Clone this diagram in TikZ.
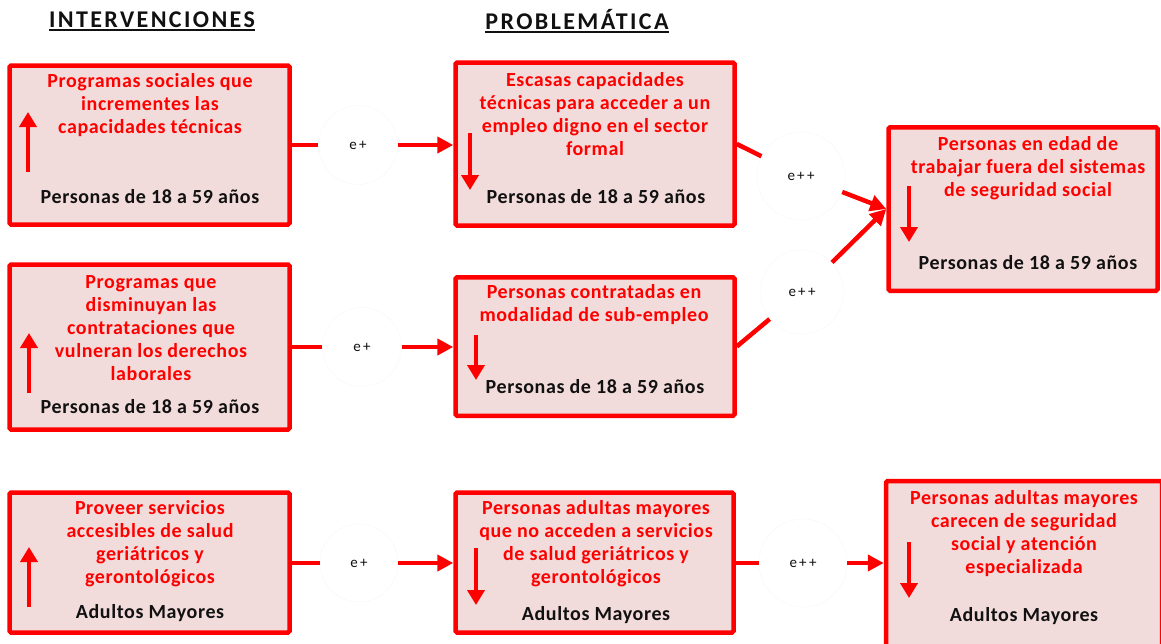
\documentclass[tikz,border=0pt]{standalone}
\usepackage{fontspec}
\setmainfont{Carlito}
\newfontfamily\bodyfont{Carlito}[LetterSpace=3]
\newfontfamily\headfont{Carlito}[LetterSpace=10]
\newfontfamily\lblfont{Carlito}[LetterSpace=15]
\usetikzlibrary{arrows.meta}
\definecolor{boxred}{HTML}{FF0000}
\definecolor{boxfill}{HTML}{F2DCDB}
\definecolor{txtblack}{HTML}{111111}
\newcommand\thickul[1]{\setbox0\hbox{#1}\rlap{\raisebox{-3.5pt}{\rule{\wd0}{1.8pt}}}\box0}
\begin{document}
\begin{tikzpicture}[x=1pt,y=-1pt,
  box/.style={draw=boxred, fill=boxfill, line width=4.5pt, rounded corners=1.5pt, inner sep=0pt},
  redtxt/.style={text=boxred, font=\bodyfont\bfseries\fontsize{20}{23}\selectfont, align=center, inner sep=0pt},
  blktxt/.style={text=txtblack, font=\bodyfont\bfseries\fontsize{20}{23}\selectfont, inner sep=0pt},
  headtxt/.style={text=txtblack, font=\headfont\bfseries\fontsize{24}{28}\selectfont, inner sep=0pt},
  lbl/.style={circle, fill=white, draw=black!3, line width=0.4pt, minimum size=80pt, inner sep=0pt, text=txtblack, font=\lblfont\fontsize{15}{18}\selectfont},
  conn/.style={draw=boxred, line width=4.5pt},
  tipped/.style={-{Triangle[length=16pt,width=16pt]}},
  updown/.style={draw=boxred, line width=4.5pt, -{Triangle[length=15pt,width=17pt]}}
]
\useasboundingbox (0,0) rectangle (1161,643);

% headers
\node[headtxt] (h1) at (152,21) {\thickul{INTERVENCIONES}};
\node[headtxt] (h2) at (577,21) {\thickul{PROBLEMÁTICA}};

% boxes
\node[box, minimum width=280pt, minimum height=159pt] (a1) at (149.5,145) {};
\node[box, minimum width=280pt, minimum height=165pt] (a2) at (149.5,347) {};
\node[box, minimum width=280pt, minimum height=140pt] (a3) at (149.5,562.5) {};
\node[box, minimum width=279pt, minimum height=163pt] (b1) at (595,144) {};
\node[box, minimum width=279pt, minimum height=138.5pt] (b2) at (595,346.5) {};
\node[box, minimum width=278pt, minimum height=140pt] (b3) at (594.5,562.5) {};
\node[box, minimum width=269pt, minimum height=163.5pt] (c1) at (1023,209) {};
\node[box, minimum width=276pt, minimum height=176pt] (c3) at (1024,569) {};

% texts
\node[redtxt] (a1t) at (150,105.5) {Programas sociales que\\incrementes las\\capacidades técnicas};
\node[blktxt] (a1p) at (150,197) {Personas de 18 a 59 años};
\node[redtxt] (a2t) at (151,328) {Programas que\\disminuyan las\\contrataciones que\\vulneran los derechos\\laborales};
\node[blktxt] (a2p) at (150,407) {Personas de 18 a 59 años};
\node[redtxt] (a3t) at (150,544) {Proveer servicios\\accesibles de salud\\geriátricos y\\gerontológicos};
\node[blktxt] (a3p) at (150,613) {Adultos Mayores};

\node[redtxt] (b1t) at (595,114) {Escasas capacidades\\técnicas para acceder a un\\empleo digno en el sector\\formal};
\node[blktxt] (b1p) at (596,197) {Personas de 18 a 59 años};
\node[redtxt] (b2t) at (594,305) {Personas contratadas en\\modalidad de sub-empleo};
\node[blktxt] (b2p) at (595,387) {Personas de 18 a 59 años};
\node[redtxt] (b3t) at (596,544) {Personas adultas mayores\\que no acceden a servicios\\de salud geriátricos y\\gerontológicos};
\node[blktxt] (b3p) at (596,615) {Adultos Mayores};

\node[redtxt] (c1t) at (1028,168.5) {Personas en edad de\\trabajar fuera del sistemas\\de seguridad social};
\node[blktxt] (c1p) at (1028,263) {Personas de 18 a 59 años};
\node[redtxt] (c3t) at (1024,534) {Personas adultas mayores\\carecen de seguridad\\social y atención\\especializada};
\node[blktxt] (c3p) at (1024,616) {Adultos Mayores};

% arrows inside boxes
\coordinate (ua1s) at (28,172); \coordinate (ua1e) at (28,112);
\coordinate (ua2s) at (29,393); \coordinate (ua2e) at (29,333);
\coordinate (ua3s) at (29,607); \coordinate (ua3e) at (29,547);
\coordinate (db1s) at (470,133); \coordinate (db1e) at (470,190);
\coordinate (db2s) at (476,335); \coordinate (db2e) at (476,380);
\coordinate (db3s) at (476,548); \coordinate (db3e) at (476,605);
\coordinate (dc1s) at (909,186); \coordinate (dc1e) at (909,242);
\coordinate (dc3s) at (909,542); \coordinate (dc3e) at (909,598);
\foreach \p in {ua1,ua2,ua3,db1,db2,db3,dc1,dc3}
  \draw[updown] (\p s) -- (\p e);

% labels
\node[lbl, minimum size=79pt] (l1) at (358,145) {e+};
\node[lbl, minimum size=79pt] (l2) at (362,347) {e+};
\node[lbl, minimum size=78pt] (l3) at (359,563) {e+};
\node[lbl, minimum size=88pt] (l4) at (801,176) {e++};
\node[lbl, minimum size=84pt] (l5) at (802,292) {e++};
\node[lbl, minimum size=88pt] (l6) at (803,563) {e++};

% connectors
\draw[conn] (a1.east) -- (l1);
\draw[conn, tipped] (l1) -- (b1.west |- l1);
\draw[conn] (a2.east) -- (l2);
\draw[conn, tipped] (l2) -- (b2.west |- l2);
\draw[conn] (a3.east |- l3) -- (l3);
\draw[conn, tipped] (l3) -- (b3.west |- l3);
\draw[conn] (b1.east) -- (l4);
\draw[conn, tipped] (l4) -- (c1.west);
\draw[conn] (b2.east) -- (l5);
\draw[conn, tipped] (l5) -- (c1.west);
\draw[conn] (b3.east |- l6) -- (l6);
\draw[conn, tipped] (l6) -- (l6 -| c3.west);
\end{tikzpicture}
\end{document}
